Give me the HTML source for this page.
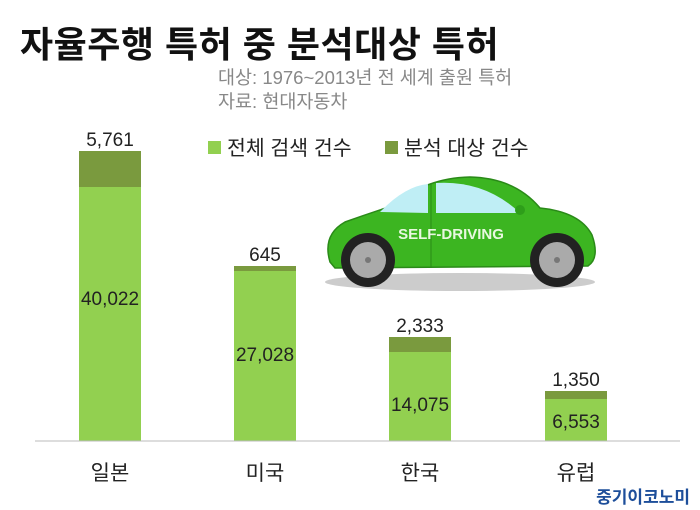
<!DOCTYPE html>
<html><head><meta charset="utf-8"><style>
body{margin:0;width:700px;height:510px;background:#fff;overflow:hidden;position:relative;font-family:"Liberation Sans","Noto Sans CJK KR",sans-serif}
.a{position:absolute;white-space:nowrap}
</style></head><body>
<div class="a" style="left:20px;top:16px;font-size:36px;font-weight:bold;color:#111;letter-spacing:0.5px">자율주행 특허 중 분석대상 특허</div>
<div class="a" style="left:218px;top:66px;font-size:18.5px;color:#888;line-height:24px">대상: 1976~2013년 전 세계 출원 특허<br>자료: 현대자동차</div>
<svg class="a" style="left:0;top:0" width="700" height="510">
<g font-family="Liberation Sans,Noto Sans CJK KR,sans-serif" font-size="19" fill="#222" text-anchor="middle">
<rect x="79" y="151" width="62" height="36" fill="#7a9a3e"/><rect x="79" y="187" width="62" height="254" fill="#92d050"/>
<rect x="234" y="266" width="62" height="5" fill="#7a9a3e"/><rect x="234" y="271" width="62" height="170" fill="#92d050"/>
<rect x="389" y="337" width="62" height="15" fill="#7a9a3e"/><rect x="389" y="352" width="62" height="89" fill="#92d050"/>
<rect x="545" y="391" width="62" height="8" fill="#7a9a3e"/><rect x="545" y="399" width="62" height="42" fill="#92d050"/>
<line x1="35" y1="441" x2="680" y2="441" stroke="#bbb" stroke-width="1"/>
<text x="110" y="146">5,761</text><text x="110" y="305">40,022</text>
<text x="265" y="261">645</text><text x="265" y="361">27,028</text>
<text x="420" y="332">2,333</text><text x="420" y="411">14,075</text>
<text x="576" y="386">1,350</text><text x="576" y="428">6,553</text>
<g font-size="21"><text x="110" y="480">일본</text><text x="265" y="480">미국</text><text x="420" y="480">한국</text><text x="576" y="480">유럽</text></g>
<rect x="208" y="141" width="13" height="13" fill="#92d050"/><text x="227" y="155" text-anchor="start" font-size="20.5">전체 검색 건수</text>
<rect x="385" y="141" width="13" height="13" fill="#7a9a3e"/><text x="404" y="155" text-anchor="start" font-size="20.5">분석 대상 건수</text>
</g>
<ellipse cx="460" cy="282" rx="135" ry="9" fill="#ccc"/>
<path d="M330 262 Q322 235 345 222 Q370 213 395 205 Q425 178 470 177 Q515 178 540 208 Q580 212 592 235 Q600 258 588 266 L335 268 Z" fill="#3cb521" stroke="#2a8a18" stroke-width="1.5"/>
<path d="M380 212 Q405 186 428 184 L428 213 Z" fill="#bfeef5"/>
<path d="M436 183 Q485 180 520 213 L436 213 Z" fill="#bfeef5"/>
<line x1="431" y1="183" x2="431" y2="268" stroke="#2a8a18"/>
<circle cx="520" cy="210" r="5" fill="#2e9e1a"/>
<text x="451" y="239" text-anchor="middle" font-family="Liberation Sans,sans-serif" font-weight="bold" font-size="15" fill="#e8f8e0">SELF-DRIVING</text>
<g><circle cx="368" cy="260" r="27" fill="#222"/><circle cx="368" cy="260" r="18" fill="#aaa"/><circle cx="368" cy="260" r="3" fill="#777"/></g>
<g><circle cx="557" cy="260" r="27" fill="#222"/><circle cx="557" cy="260" r="18" fill="#aaa"/><circle cx="557" cy="260" r="3" fill="#777"/></g>
<text x="690" y="503" text-anchor="end" font-family="Liberation Sans,Noto Sans CJK KR,sans-serif" font-weight="bold" font-size="17" fill="#1d4e9a">중기이코노미</text>
</svg>
</body></html>
